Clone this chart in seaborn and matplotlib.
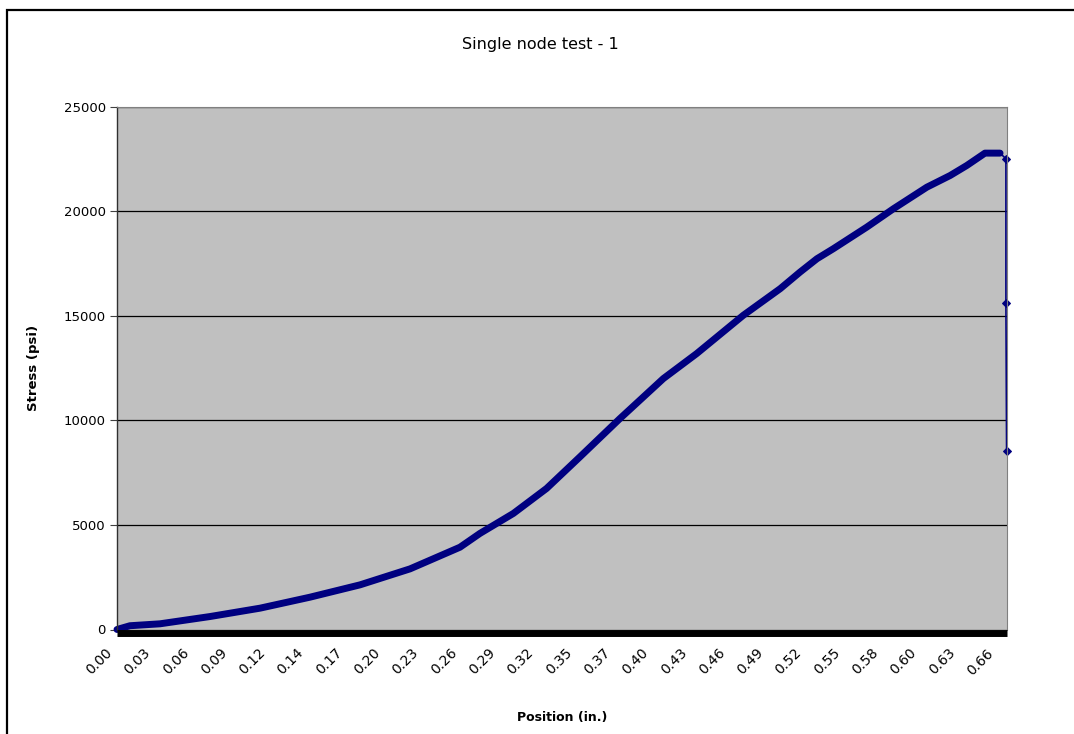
import matplotlib
matplotlib.use("Agg")
import matplotlib.pyplot as plt
import matplotlib.transforms as mtransforms
from matplotlib.patches import Rectangle
import pandas as pd
import seaborn as sns

# category labels shown under the x axis (one every ~0.0287 in.)
tick_labels = ["0.00", "0.03", "0.06", "0.09", "0.12", "0.14", "0.17", "0.20",
               "0.23", "0.26", "0.29", "0.32", "0.35", "0.37", "0.40", "0.43",
               "0.46", "0.49", "0.52", "0.55", "0.58", "0.60", "0.63", "0.66"]
tick_step = 0.0287

# loading curve
position = [0.0000, 0.0097, 0.0322, 0.0697, 0.1072, 0.1446, 0.1821, 0.2196,
            0.2570, 0.2720, 0.2970, 0.3219, 0.3469, 0.3769, 0.4094, 0.4344,
            0.4693, 0.4970, 0.5118, 0.5245, 0.5368, 0.5618, 0.5818, 0.6068,
            0.6243, 0.6368, 0.6504, 0.6617]
stress = [0, 180, 272, 620, 1020, 1545, 2135, 2900,
          3935, 4596, 5550, 6745, 8255, 10090, 12000, 13195,
          15025, 16300, 17090, 17730, 18210, 19240, 20120, 21150,
          21710, 22190, 22780, 22780]

# failure drop at the end
tail_position = [0.6617, 0.6661, 0.6661, 0.6666]
tail_stress = [22780, 22510, 15590, 8530]

curve = pd.DataFrame({"pos": position, "stress": stress})
tail = pd.DataFrame({"pos": tail_position, "stress": tail_stress})

sns.set_style("white")
plt.rcParams["font.family"] = ["DejaVu Sans"]
plt.rcParams["text.color"] = "black"
plt.rcParams["axes.labelcolor"] = "black"
plt.rcParams["xtick.color"] = "black"
plt.rcParams["ytick.color"] = "black"

navy = "#000080"

fig = plt.figure(figsize=(10.74, 7.34), dpi=100)
ax = fig.add_axes([117 / 1074, 1 - 629.5 / 734, 890 / 1074, 522.8 / 734])
ax.set_facecolor("#C0C0C0")

sns.lineplot(data=curve, x="pos", y="stress", ax=ax, color=navy, linewidth=5,
             estimator=None, sort=False, solid_capstyle="round",
             solid_joinstyle="round")
sns.lineplot(data=tail, x="pos", y="stress", ax=ax, color=navy, linewidth=1.2,
             estimator=None, sort=False, marker="D", markersize=4.5,
             markeredgecolor=navy, markevery=[1, 2, 3])
for line in ax.lines:
    line.set_clip_on(False)

# spines first: moving a spine resets the ticks
ax.spines["top"].set_color("#808080")
ax.spines["right"].set_color("#808080")
ax.spines["left"].set_color("#303030")
ax.spines["left"].set_linewidth(1.0)
ax.spines["bottom"].set_color("black")
ax.spines["bottom"].set_linewidth(5)
ax.spines["bottom"].set_capstyle("butt")
ax.spines["bottom"].set_position(("outward", 2.4))

ax.set_xlim(0, 0.6669)
ax.set_ylim(0, 25000)
ax.set_yticks(range(0, 25001, 5000))
ax.set_xticks([i * tick_step for i in range(len(tick_labels))])

ax.tick_params(axis="x", length=0, pad=13)
ax.tick_params(axis="y", length=5, width=0.8, color="#404040", pad=3, labelsize=9.5,
               left=True)

ax.set_xticklabels(tick_labels, fontsize=10, rotation=45, ha="right",
                   va="center", rotation_mode="anchor")
offset = mtransforms.ScaledTranslation(-7 / 100, 0, fig.dpi_scale_trans)
for lab in ax.get_xticklabels():
    lab.set_transform(lab.get_transform() + offset)

ax.yaxis.grid(True, color="black", linewidth=0.9)
ax.xaxis.grid(False)
ax.set_axisbelow(True)

ax.set_xlabel("Position (in.)", fontsize=9, fontweight="bold")
ax.set_ylabel("Stress (psi)", fontsize=9.5, fontweight="bold")
ax.xaxis.set_label_coords(0.5, -0.155)
ax.yaxis.set_label_coords(-0.087, 0.5)

fig.text(540 / 1074, 1 - 45 / 734, "Single node test - 1", ha="center",
         va="center", fontsize=11.5)

fig.add_artist(Rectangle((7 / 1074, -0.1), 2, 0.1 + (734 - 10.5) / 734,
                         transform=fig.transFigure, fill=False,
                         edgecolor="black", linewidth=1.6))

fig.savefig("out.png", dpi=100)
